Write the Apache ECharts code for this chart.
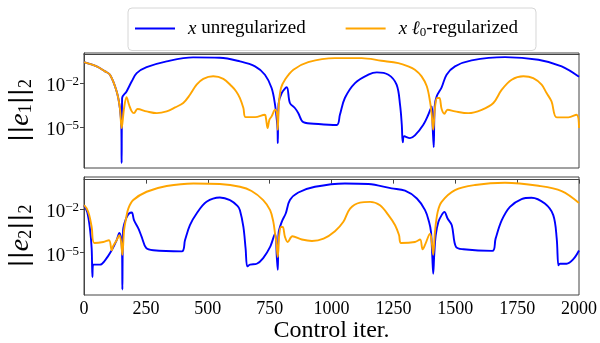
<!DOCTYPE html>
<html>
<head>
<meta charset="utf-8">
<script src="https://cdn.jsdelivr.net/npm/echarts@6/dist/echarts.min.js"></script>
<style>
  html, body { margin: 0; padding: 0; background: #fff; }
  #chart { width: 600px; height: 343px; }
</style>
</head>
<body>
<div id="chart"></div>
<script>
// values are log10 of the error norm
const seriesNames = ['x unregularized', 'x ℓ0-regularized']
const seriesColors = ['#0000ff', '#ffa500']

const e1Unregularized = [
  [0, -0.55], [51, -0.84], [85, -1.18], [105, -1.41], [132, -2.55], [145, -3.68], [151, -5.05], [152, -7.43],
  [154, -3.0], [172, -2.55], [193, -1.86], [213, -1.3], [253, -0.9], [334, -0.5], [441, -0.23], [549, -0.25],
  [630, -0.5], [691, -0.84], [731, -1.41], [758, -2.32], [772, -3.46], [779, -4.48], [782, -5.1], [783, -6.07],
  [786, -3.4], [799, -2.66], [819, -2.27], [832, -3.34], [852, -3.68], [866, -4.03], [886, -4.64], [947, -4.77],
  [1021, -4.84], [1034, -4.14], [1054, -3.0], [1095, -1.98], [1149, -1.41], [1183, -1.25], [1230, -1.41],
  [1263, -2.09], [1277, -3.46], [1284, -4.82], [1288, -6.02], [1294, -5.61], [1317, -5.73], [1337, -5.55],
  [1371, -4.82], [1391, -4.14], [1405, -3.57], [1409, -5.05], [1413, -6.36], [1417, -3.57], [1425, -2.89],
  [1445, -2.27], [1465, -1.41], [1499, -0.84], [1566, -0.43], [1701, -0.21], [1836, -0.39], [1930, -0.84],
  [2000, -1.55]
]
const e1Regularized = [
  [0, -0.55], [51, -0.84], [85, -1.18], [105, -1.41], [132, -2.55], [145, -3.68], [152, -5.05], [162, -3.68],
  [172, -2.95], [182, -3.46], [193, -3.91], [202, -4.03], [216, -3.75], [253, -3.91], [294, -4.03], [334, -3.91],
  [368, -3.64], [401, -3.34], [428, -2.78], [455, -2.09], [482, -1.69], [522, -1.52], [563, -1.69], [597, -2.2],
  [615, -2.55], [630, -3.0], [644, -3.68], [653, -4.3], [691, -4.3], [731, -4.14], [735, -4.36], [742, -5.05],
  [749, -4.48], [758, -4.25], [772, -3.8], [780, -4.14], [783, -5.16], [787, -3.46], [796, -2.32], [812, -1.75],
  [846, -1.07], [906, -0.55], [1014, -0.28], [1122, -0.28], [1202, -0.46], [1270, -0.62], [1310, -0.84],
  [1337, -1.07], [1364, -1.52], [1385, -2.2], [1398, -3.23], [1405, -4.14], [1411, -5.16], [1418, -3.68],
  [1427, -3.0], [1436, -3.0], [1445, -3.75], [1456, -4.07], [1469, -3.8], [1499, -3.91], [1553, -4.03],
  [1607, -3.8], [1654, -3.34], [1688, -2.43], [1728, -1.75], [1775, -1.52], [1815, -1.64], [1849, -2.09],
  [1869, -2.66], [1889, -3.23], [1910, -4.32], [1957, -4.32], [1990, -4.14], [2000, -5.05]
]
const e2Unregularized = [
  [0, -1.75], [13, -2.21], [24, -3.35], [31, -4.73], [34, -6.67], [37, -5.82], [65, -5.82], [85, -5.53],
  [112, -4.84], [132, -4.15], [143, -3.65], [150, -4.04], [154, -5.18], [155, -7.52], [158, -3.46], [170, -2.66],
  [182, -2.32], [193, -2.25], [202, -2.78], [220, -3.35], [233, -3.92], [251, -4.68], [280, -4.84], [395, -4.91],
  [408, -4.15], [428, -3.12], [455, -2.32], [495, -1.52], [549, -1.22], [590, -1.4], [620, -1.8], [630, -2.09],
  [644, -3.24], [653, -4.73], [660, -5.94], [671, -5.82], [698, -5.76], [724, -5.37], [752, -4.61], [772, -3.7],
  [779, -5.3], [783, -6.17], [786, -3.7], [799, -2.89], [815, -2.32], [832, -1.4], [866, -0.88], [933, -0.49],
  [1054, -0.26], [1149, -0.3], [1243, -0.6], [1297, -0.76], [1345, -1.29], [1378, -2.09], [1394, -2.89],
  [1402, -3.58], [1407, -5.18], [1411, -6.44], [1415, -5.18], [1421, -3.81], [1432, -2.89], [1445, -2.43],
  [1456, -2.21], [1469, -2.66], [1486, -3.12], [1503, -4.61], [1533, -4.77], [1650, -4.88], [1663, -4.04],
  [1688, -2.78], [1721, -1.86], [1768, -1.33], [1808, -1.24], [1862, -1.64], [1896, -2.43], [1910, -4.04],
  [1917, -5.87], [1923, -5.76], [1950, -5.76], [1977, -5.45], [2000, -4.85]
]
const e2Regularized = [
  [0, -1.75], [11, -1.98], [21, -2.43], [31, -3.24], [42, -4.34], [78, -4.27], [101, -4.15], [112, -4.84],
  [118, -4.54], [132, -4.15], [143, -3.81], [150, -4.27], [155, -5.14], [162, -3.46], [170, -2.66], [179, -1.98],
  [199, -1.4], [253, -0.83], [334, -0.44], [442, -0.26], [549, -0.3], [630, -0.49], [677, -0.78], [724, -1.4],
  [752, -2.09], [765, -2.89], [772, -3.7], [777, -4.27], [783, -5.3], [788, -3.92], [796, -3.24], [803, -3.24],
  [812, -3.92], [823, -4.27], [842, -3.88], [880, -4.1], [921, -4.2], [968, -4.04], [1014, -3.53], [1048, -2.89],
  [1075, -1.98], [1115, -1.57], [1156, -1.52], [1196, -1.75], [1230, -2.43], [1257, -3.12], [1273, -3.81],
  [1281, -4.34], [1337, -4.27], [1358, -4.1], [1368, -4.77], [1380, -4.38], [1398, -3.7], [1405, -4.27],
  [1411, -5.14], [1418, -3.58], [1429, -2.21], [1445, -1.52], [1499, -0.72], [1580, -0.37], [1701, -0.21],
  [1836, -0.42], [1930, -0.78], [2000, -1.6]
]

const yTickValues = [-5, -2]
const xTickStep = 250
const yRanges = [[-7.77, 0.07], [-7.9, 0.18]]
const yNames = ['1', '2']

const FONT = 'Liberation Serif'
const AXIS_COLOR = '#444'

function yAxisFor(i) {
  return {
    type: 'value',
    gridIndex: i,
    min: yRanges[i][0],
    max: yRanges[i][1],
    splitLine: { show: false },
    axisLine: { show: true, lineStyle: { color: AXIS_COLOR } },
    axisTick: { show: true, length: 4, customValues: yTickValues, lineStyle: { color: AXIS_COLOR } },
    axisLabel: {
      customValues: yTickValues,
      margin: 5,
      padding: [6, 0, 0, 0],
      formatter: v => '{b|10}{sup|−' + (-v) + '}',
      rich: {
        b: { fontFamily: FONT, fontSize: 19, color: '#000', lineHeight: 22 },
        sup: { fontFamily: FONT, fontSize: 13, color: '#000', verticalAlign: 'top', lineHeight: 22 },
      },
    },
    name: '{n|||}{e|e}{s|' + yNames[i] + '}{n|||}{s|2}',
    nameLocation: 'middle',
    nameRotate: 90,
    nameGap: 44,
    nameTextStyle: {
      rich: {
        n: { fontFamily: 'DejaVu Sans', fontSize: 24, color: '#000', lineHeight: 30 },
        e: { fontFamily: FONT, fontSize: 28, fontStyle: 'italic', color: '#000', lineHeight: 30 },
        s: { fontFamily: FONT, fontSize: 18, color: '#000', verticalAlign: 'bottom', lineHeight: 30 },
      },
    },
  }
}

function lineSeries(name, data, i, color) {
  return {
    name,
    type: 'line',
    xAxisIndex: i,
    yAxisIndex: i,
    data,
    symbol: 'none',
    smooth: 0.35,
    color,
    lineStyle: { width: 1.9, color },
  }
}

const chart = echarts.init(document.getElementById('chart'), null, { renderer: 'canvas' })

chart.setOption({
  animation: false,
  backgroundColor: '#fff',
  legend: {
    data: seriesNames,
    left: 128,
    top: 8,
    padding: [11, 18, 11, 7],
    itemGap: 40,
    itemWidth: 40,
    itemHeight: 2,
    icon: 'rect',
    borderColor: '#d6d6d6',
    borderWidth: 1,
    borderRadius: 4,
    formatter: name => name === seriesNames[0]
      ? '{i|x} unregularized'
      : '{i|x} {i|ℓ}{sub|0}-regularized',
    textStyle: {
      fontFamily: FONT,
      fontSize: 19,
      color: '#000',
      padding: [0, 0, 0, 8],
      rich: {
        i: { fontFamily: FONT, fontSize: 19, fontStyle: 'italic', color: '#000', lineHeight: 22 },
        sub: { fontFamily: FONT, fontSize: 13, color: '#000', verticalAlign: 'bottom', lineHeight: 22 },
      },
    },
  },
  grid: [
    { left: 84, top: 53, width: 495, height: 115, show: true, borderColor: AXIS_COLOR, borderWidth: 1, outerBoundsMode: 'none' },
    { left: 84, top: 177, width: 495, height: 118, show: true, borderColor: AXIS_COLOR, borderWidth: 1, outerBoundsMode: 'none' },
  ],
  xAxis: [
    {
      type: 'value', gridIndex: 0, min: 0, max: 2000, interval: xTickStep,
      splitLine: { show: false },
      axisLine: { show: true, lineStyle: { color: AXIS_COLOR } },
      axisTick: { show: false },
      axisLabel: { show: false },
    },
    {
      type: 'value', gridIndex: 1, min: 0, max: 2000, interval: xTickStep,
      splitLine: { show: false },
      axisLine: { show: true, lineStyle: { color: AXIS_COLOR } },
      axisTick: { show: true, length: 4, lineStyle: { color: AXIS_COLOR } },
      axisLabel: { fontFamily: FONT, fontSize: 18, color: '#000', margin: 5, formatter: v => String(v) },
      name: 'Control iter.',
      nameLocation: 'middle',
      nameGap: 23,
      nameTextStyle: { fontFamily: FONT, fontSize: 24, color: '#000' },
    },
  ],
  yAxis: [yAxisFor(0), yAxisFor(1)],
  series: [
    lineSeries(seriesNames[0], e1Unregularized, 0, seriesColors[0]),
    lineSeries(seriesNames[1], e1Regularized, 0, seriesColors[1]),
    lineSeries(seriesNames[0], e2Unregularized, 1, seriesColors[0]),
    lineSeries(seriesNames[1], e2Regularized, 1, seriesColors[1]),
  ],
})
</script>
</body>
</html>
